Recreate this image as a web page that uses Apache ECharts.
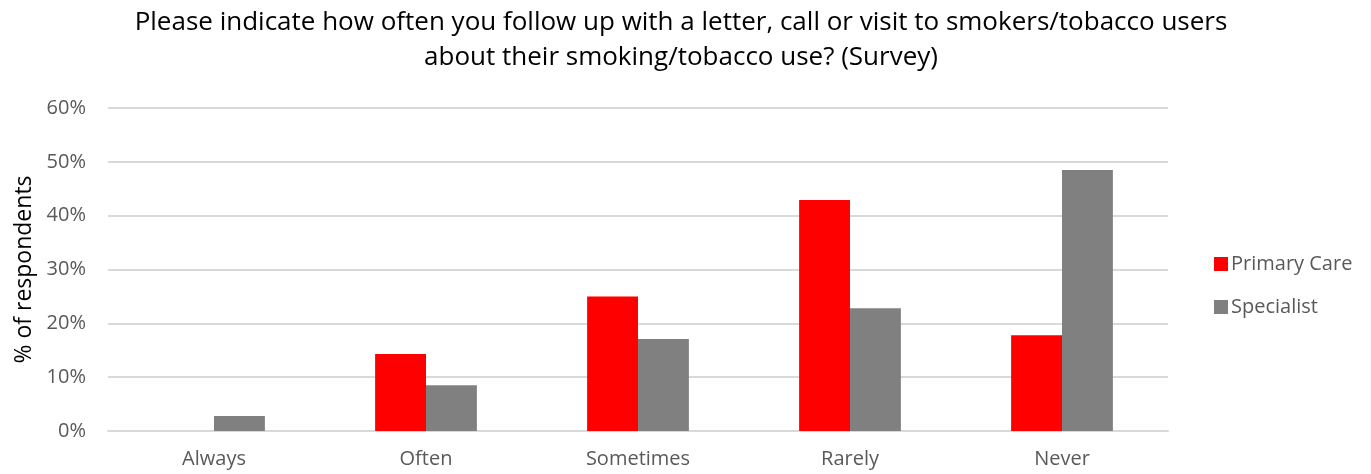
<!DOCTYPE html>
<html>
<head>
<meta charset="utf-8">
<script src="https://cdn.jsdelivr.net/npm/echarts@6/dist/echarts.min.js"></script>
<style>
  html, body { margin: 0; padding: 0; background: #fff; }
  #chart { width: 1371px; height: 474px; }
</style>
</head>
<body>
<div id="chart"></div>
<script>
// Survey responses, percent of respondents
const categories = ['Always', 'Often', 'Sometimes', 'Rarely', 'Never'];
const primaryCare = [0, 14.3, 25.0, 42.9, 17.8];
const specialist = [2.8, 8.5, 17.1, 22.8, 48.5];
const seriesNames = ['Primary Care', 'Specialist'];
const titleText = 'Please indicate how often you follow up with a letter, call or visit to smokers/tobacco users\nabout their smoking/tobacco use? (Survey)';
const yAxisName = '% of respondents';

const FONT = '"Open Sans", "Noto Sans", sans-serif';
const chart = echarts.init(document.getElementById('chart'), null, { renderer: 'canvas' });

chart.setOption({
  animation: false,
  backgroundColor: '#ffffff',
  title: {
    text: titleText,
    left: 676,
    top: 0,
    textAlign: 'center',
    textStyle: {
      fontFamily: FONT,
      fontSize: 26,
      fontWeight: 'normal',
      color: '#000000',
      lineHeight: 35
    }
  },
  legend: {
    orient: 'vertical',
    left: 1209,
    top: 249,
    itemWidth: 14,
    itemHeight: 14,
    itemGap: 23,
    icon: 'rect',
    textStyle: { fontFamily: FONT, fontSize: 20, color: '#595959', padding: [0, 0, 0, -2] },
    data: seriesNames
  },
  grid: { left: 108, right: 203, top: 108, bottom: 43, containLabel: false },
  xAxis: {
    type: 'category',
    data: categories,
    axisLine: { show: true, lineStyle: { color: '#d9d9d9', width: 2 } },
    axisTick: { show: false },
    axisLabel: { fontFamily: FONT, fontSize: 20, color: '#595959', margin: 18 }
  },
  yAxis: {
    type: 'value',
    min: 0,
    max: 60,
    interval: 10,
    name: yAxisName,
    nameLocation: 'middle',
    nameGap: 72,
    nameRotate: 90,
    nameTextStyle: { fontFamily: FONT, fontSize: 23, color: '#000000' },
    axisLine: { show: false },
    axisTick: { show: false },
    axisLabel: { fontFamily: FONT, fontSize: 20, color: '#595959', margin: 22, formatter: '{value}%' },
    splitLine: { lineStyle: { color: '#d9d9d9', width: 2 } }
  },
  series: [
    {
      name: seriesNames[0],
      type: 'bar',
      data: primaryCare,
      barGap: '0%',
      barCategoryGap: '52%',
      itemStyle: { color: '#ff0000' }
    },
    {
      name: seriesNames[1],
      type: 'bar',
      data: specialist,
      barGap: '0%',
      barCategoryGap: '52%',
      itemStyle: { color: '#808080' }
    }
  ]
});
</script>
</body>
</html>
